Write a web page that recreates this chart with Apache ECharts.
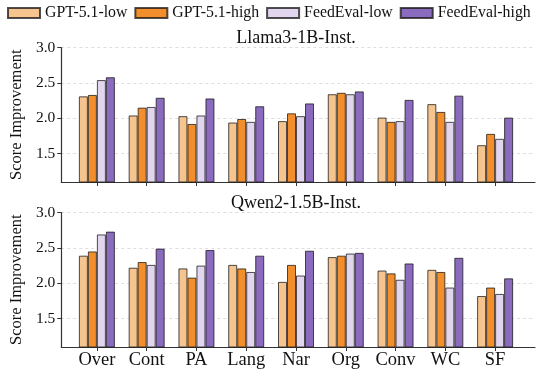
<!DOCTYPE html>
<html>
<head>
<meta charset="utf-8">
<script src="https://cdn.jsdelivr.net/npm/echarts@6/dist/echarts.min.js"></script>
<style>
  html, body { margin: 0; padding: 0; background: #fff; }
  #main { width: 536px; height: 372px; }
</style>
</head>
<body>
<div id="main"></div>
<script>
// categories + values
const categories = ['Over', 'Cont', 'PA', 'Lang', 'Nar', 'Org', 'Conv', 'WC', 'SF'];
const seriesNames = ['GPT-5.1-low', 'GPT-5.1-high', 'FeedEval-low', 'FeedEval-high'];
const panelTitles = ['Llama3-1B-Inst.', 'Qwen2-1.5B-Inst.'];
const yTicks = [1.5, 2.0, 2.5, 3.0];

// Llama3-1B-Inst.
const llamaGptLow = [2.31, 2.04, 2.03, 1.94, 1.96, 2.34, 2.01, 2.20, 1.62];
const llamaGptHigh = [2.33, 2.15, 1.92, 1.99, 2.07, 2.36, 1.95, 2.09, 1.78];
const llamaFeedLow = [2.54, 2.16, 2.04, 1.95, 2.03, 2.34, 1.96, 1.95, 1.71];
const llamaFeedHigh = [2.58, 2.29, 2.28, 2.17, 2.21, 2.38, 2.26, 2.32, 2.01];

// Qwen2-1.5B-Inst.
const qwenGptLow = [2.39, 2.22, 2.21, 2.26, 2.02, 2.37, 2.18, 2.19, 1.82];
const qwenGptHigh = [2.45, 2.30, 2.08, 2.21, 2.26, 2.39, 2.14, 2.16, 1.94];
const qwenFeedLow = [2.69, 2.26, 2.25, 2.16, 2.11, 2.42, 2.05, 1.94, 1.85];
const qwenFeedHigh = [2.73, 2.49, 2.47, 2.39, 2.46, 2.43, 2.28, 2.36, 2.07];

const colors = ['#F6C48E', '#F28E2B', '#E2D6EF', '#8B6BBE'];
const FONT = '"Liberation Serif", "Times New Roman", serif';
const Y_MIN = 1.1, Y_MAX = 3.0;

const panels = [
  { top: 47.5, data: [llamaGptLow, llamaGptHigh, llamaFeedLow, llamaFeedHigh], labels: false },
  { top: 212.5, data: [qwenGptLow, qwenGptHigh, qwenFeedLow, qwenFeedHigh], labels: true }
];
const PANEL_H = 134.5;

let grid = [], xAxis = [], yAxis = [], series = [], title = [];

panels.forEach((p, i) => {
  const frameIdx = i * 2, barIdx = i * 2 + 1;

  // frame: axis lines, y labels, dashed grid lines
  grid.push({ left: 57, width: 478, top: p.top, height: PANEL_H });
  xAxis.push({
    gridIndex: frameIdx, type: 'category', data: [''],
    axisLine: { lineStyle: { color: '#333', width: 1.2 } },
    axisTick: { show: false }, axisLabel: { show: false }
  });
  yAxis.push({
    gridIndex: frameIdx, type: 'value', min: Y_MIN, max: Y_MAX,
    name: 'Score Improvement', nameLocation: 'middle', nameGap: 31,
    nameTextStyle: { fontFamily: FONT, fontSize: 16.5, color: '#111' },
    axisLine: { show: true, lineStyle: { color: '#333', width: 1.2 } },
    axisTick: { show: true, length: 4, customValues: yTicks, lineStyle: { color: '#333' } },
    axisLabel: {
      customValues: yTicks, margin: 6,
      fontFamily: FONT, fontSize: 15.5, color: '#111',
      formatter: v => v.toFixed(1)
    },
    splitLine: { show: true, lineStyle: { color: '#d6d6d6', type: [3, 3], width: 0.8 } }
  });

  // bars
  grid.push({ left: 72, width: 448, top: p.top, height: PANEL_H });
  xAxis.push({
    gridIndex: barIdx, type: 'category', data: categories,
    axisLine: { show: false },
    axisTick: { show: true, alignWithLabel: true, length: 4, lineStyle: { color: '#333' } },
    axisLabel: { show: p.labels, interval: 0, margin: 4, fontFamily: FONT, fontSize: 18.5, color: '#111' }
  });
  yAxis.push({
    gridIndex: barIdx, type: 'value', min: Y_MIN, max: Y_MAX, show: false
  });

  p.data.forEach((vals, k) => {
    series.push({
      name: seriesNames[k], type: 'bar',
      xAxisIndex: barIdx, yAxisIndex: barIdx,
      data: vals, barWidth: 9, barGap: 0,
      itemStyle: { color: colors[k], borderColor: 'rgba(20,20,20,0.75)', borderWidth: 1 }
    });
  });

  title.push({
    text: panelTitles[i], left: 296, textAlign: 'center',
    top: p.top - 18, padding: 0,
    textStyle: { fontFamily: FONT, fontSize: 18, fontWeight: 'normal', color: '#111' }
  });
});

const chart = echarts.init(document.getElementById('main'), null, { renderer: 'canvas' });
chart.setOption({
  animation: false,
  backgroundColor: '#fff',
  title: title,
  legend: {
    data: seriesNames, left: 7, top: 5, padding: 0, width: 529,
    icon: 'rect', itemWidth: 32, itemHeight: 10, itemGap: 7,
    textStyle: { fontFamily: FONT, fontSize: 15.8, color: '#111' }
  },
  grid: grid,
  xAxis: xAxis,
  yAxis: yAxis,
  series: series
});
</script>
</body>
</html>
